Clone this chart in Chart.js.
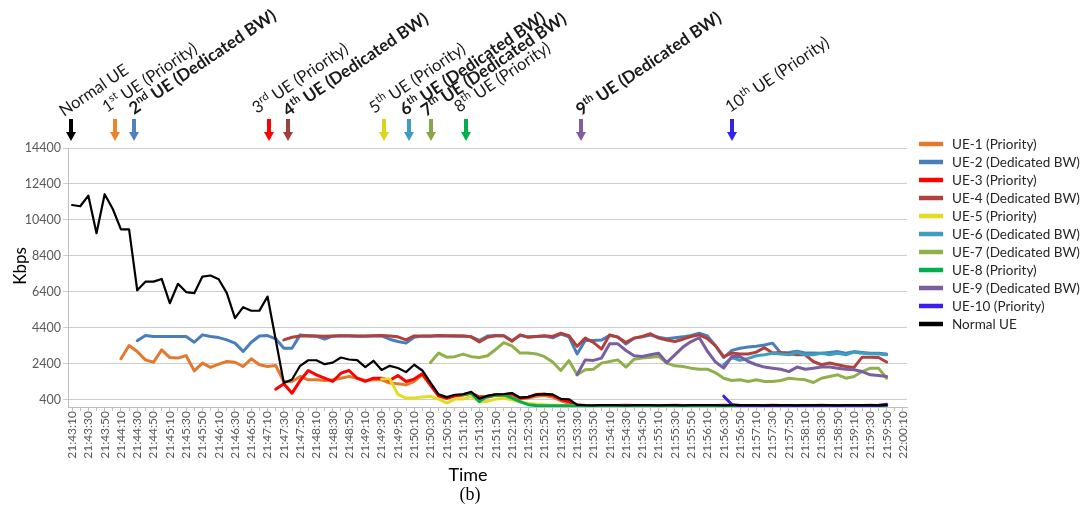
<!DOCTYPE html>
<html>
<head>
<meta charset="utf-8">
<script src="https://cdn.jsdelivr.net/npm/chart.js@4.4.1/dist/chart.umd.min.js"></script>
<style>
  html, body { margin: 0; padding: 0; background: #ffffff; }
  canvas { display: block; }
</style>
</head>
<body>
<canvas id="chart" width="1084" height="513"></canvas>
<script>
// Sample times, one every 10 s
const timeLabels = [
  '21:43:10','21:43:20','21:43:30','21:43:40','21:43:50',
  '21:44:00','21:44:10','21:44:20','21:44:30','21:44:40','21:44:50',
  '21:45:00','21:45:10','21:45:20','21:45:30','21:45:40','21:45:50',
  '21:46:00','21:46:10','21:46:20','21:46:30','21:46:40','21:46:50',
  '21:47:00','21:47:10','21:47:20','21:47:30','21:47:40','21:47:50',
  '21:48:00','21:48:10','21:48:20','21:48:30','21:48:40','21:48:50',
  '21:49:00','21:49:10','21:49:20','21:49:30','21:49:40','21:49:50',
  '21:50:00','21:50:10','21:50:20','21:50:30','21:50:40','21:50:50',
  '21:51:00','21:51:10','21:51:20','21:51:30','21:51:40','21:51:50',
  '21:52:00','21:52:10','21:52:20','21:52:30','21:52:40','21:52:50',
  '21:53:00','21:53:10','21:53:20','21:53:30','21:53:40','21:53:50',
  '21:54:00','21:54:10','21:54:20','21:54:30','21:54:40','21:54:50',
  '21:55:00','21:55:10','21:55:20','21:55:30','21:55:40','21:55:50',
  '21:56:00','21:56:10','21:56:20','21:56:30','21:56:40','21:56:50',
  '21:57:00','21:57:10','21:57:20','21:57:30','21:57:40','21:57:50',
  '21:58:00','21:58:10','21:58:20','21:58:30','21:58:40','21:58:50',
  '21:59:00','21:59:10','21:59:20','21:59:30','21:59:40','21:59:50',
  '22:00:00','22:00:10'
];

// Kbps axis tick values
const yTicks = [400, 2400, 4400, 6400, 8400, 10400, 12400, 14400];

// a UE has no samples before it attaches
function from(startIndex, values) {
  return new Array(startIndex).fill(null).concat(values);
}

// Throughput per UE (Kbps)
const ue1 = from(6, [
  2680, 3420, 3090, 2620, 2490, 3180, 2750, 2720, 2860, 2010,
  2440, 2200, 2380, 2530, 2490, 2250, 2680, 2350, 2250, 2310,
  1420, 1420, 1700, 1510, 1510, 1470, 1510, 1600, 1700, 1600,
  1470, 1510, 1510, 1330, 1290, 1230, 1420, 1790, 1200, 600,
  500, 620, 660, 750, 540, 600, 700, 650, 600, 450,
  500, 600, 640, 550, 350, 200, 100, 80, 75, 85,
  80, 75, 80, 85, 80, 75, 80, 85, 80, 75,
  80, 85, 80, 75, 80, 85, 80, 75, 80, 85,
  80, 75, 80, 85, 80, 75, 80, 85, 80, 75,
  80, 85, 80, 75, 80
]);
const ue2 = from(8, [
  3680, 3970, 3920, 3920, 3920, 3920, 3920, 3600, 4010, 3920,
  3860, 3730, 3550, 3090, 3600, 3950, 3970, 3790, 3270, 3270,
  4010, 3960, 3940, 3780, 3940, 3960, 3950, 3940, 3940, 3950,
  3960, 3770, 3640, 3550, 3880, 3940, 3940, 3960, 3950, 3940,
  3950, 3900, 3700, 3950, 3980, 3960, 3700, 3980, 3900, 3920,
  3940, 3850, 4050, 3900, 2950, 3700, 3700, 3720, 3980, 3900,
  3500, 3830, 3900, 4000, 3880, 3800, 3850, 3900, 3980, 4100,
  3950, 3400, 2750, 3150, 3270, 3330, 3380, 3450, 3550, 3000,
  3030, 3100, 3000, 3000, 2990, 3030, 3080, 2990, 3080, 3030,
  2990, 2990, 2950
]);
const ue3 = from(25, [
  990, 1290, 770, 1470, 2030, 1790, 1600, 1420, 1880, 2030,
  1600, 1420, 1600, 1600, 1480, 1750, 1420, 1550, 1850, 1230,
  620, 490, 620, 680, 770, 550, 560, 650, 680, 740,
  500, 540, 700, 720, 640, 420, 300, 130, 90, 85,
  90, 85, 90, 95, 90, 85, 90, 85, 90, 95,
  90, 85, 90, 85, 90, 95, 90, 85, 90, 85,
  90, 95, 90, 85, 90, 85, 90, 95, 90, 85,
  90, 85, 90, 95, 90, 85
]);
const ue4 = from(26, [
  3730, 3880, 3950, 3960, 3950, 3940, 3950, 3960, 3960, 3950,
  3950, 3960, 3970, 3950, 3900, 3730, 3950, 3950, 3950, 3970,
  3960, 3960, 3950, 3900, 3620, 3880, 3960, 3960, 3650, 4010,
  3880, 3920, 3960, 3920, 4100, 3960, 3370, 3830, 3590, 3220,
  4010, 3880, 3590, 3830, 3920, 4070, 3830, 3730, 3640, 3770,
  3920, 4010, 3800, 3400, 2800, 3000, 2950, 2950, 3050, 3300,
  3000, 3030, 2960, 2900, 2900, 2530, 2350, 2450, 2350, 2250,
  2200, 2770, 2770, 2750, 2500
]);
const ue5 = from(38, [
  1560, 1560, 700, 500, 500, 550, 590, 440, 220, 440,
  440, 590, 310, 310, 440, 480, 400, 280, 200, 150,
  120, 100, 85, 80, 85, 80, 75, 80, 85, 80,
  75, 80, 85, 80, 75, 80, 85, 80, 75, 80,
  85, 80, 75, 80, 85, 80, 75, 80, 85, 80,
  75, 80, 85, 80, 75, 80, 85, 80, 75, 80,
  85, 80, 75
]);
const ue6 = from(80, [
  2350, 2750, 2600, 2700, 2850, 2900, 2990, 2950, 2900, 3030,
  2900, 2900, 2990, 2900, 2990, 2900, 3050, 2990, 2960, 2950,
  2900
]);
const ue7 = from(44, [
  2470, 3000, 2770, 2800, 2940, 2800, 2750, 2850, 3200, 3580,
  3400, 3000, 3000, 2950, 2800, 2500, 2030, 2580, 1790, 2070,
  2100, 2440, 2530, 2620, 2220, 2660, 2720, 2770, 2810, 2440,
  2290, 2250, 2160, 2100, 2100, 1900, 1600, 1470, 1510, 1420,
  1510, 1420, 1420, 1470, 1600, 1550, 1510, 1360, 1600, 1700,
  1790, 1600, 1700, 1970, 2160, 2160, 1600
]);
const ue8 = from(48, [
  700, 780, 300, 600, 650, 680, 500, 300, 130, 80,
  70, 75, 70, 65, 70, 75, 70, 65, 70, 75,
  70, 65, 70, 75, 70, 65, 70, 75, 70, 65,
  70, 75, 70, 65, 70, 75, 70, 65, 70, 75,
  70, 65, 70, 75, 70, 65, 70, 75, 70, 65,
  70, 75, 70
]);
const ue9 = from(62, [
  1790, 2620, 2590, 2720, 3510, 3510, 3140, 2850, 2810, 2900,
  2990, 2470, 2900, 3330, 3640, 3850, 3100, 2500, 2160, 2810,
  2810, 2530, 2350, 2220, 2160, 2100, 1970, 2220, 2100, 2160,
  2220, 2220, 2160, 2100, 2070, 1970, 1790, 1750, 1700
]);
const ue10 = from(80, [
  600, 140, 80, 75, 80, 85, 80, 75, 80, 85,
  80, 75, 80, 85, 80, 75, 80, 85, 80, 100,
  150
]);
const normalUE = [
  11230, 11160, 11750, 9660, 11830, 11010, 9880, 9880, 6490, 6970,
  6970, 7120, 5770, 6850, 6390, 6330, 7250, 7310, 7100, 6330,
  4940, 5550, 5350, 5360, 6140, 3740, 1330, 1530, 2290, 2600,
  2600, 2380, 2470, 2750, 2640, 2610, 2220, 2570, 2060, 2290,
  2170, 1940, 2350, 2030, 1360, 700, 550, 680, 710, 840,
  460, 620, 700, 720, 780, 520, 560, 690, 720, 700,
  450, 430, 120, 100, 95, 110, 100, 105, 95, 100,
  110, 100, 95, 105, 100, 95, 100, 110, 105, 100,
  95, 100, 105, 110, 100, 95, 100, 105, 100, 95,
  110, 100, 105, 100, 95, 100, 105, 110, 100, 95,
  105
];

const seriesNames = [
  'UE-1 (Priority)', 'UE-2 (Dedicated BW)', 'UE-3 (Priority)', 'UE-4 (Dedicated BW)',
  'UE-5 (Priority)', 'UE-6 (Dedicated BW)', 'UE-7 (Dedicated BW)', 'UE-8 (Priority)',
  'UE-9 (Dedicated BW)', 'UE-10 (Priority)', 'Normal UE'
];
const seriesData = [ue1, ue2, ue3, ue4, ue5, ue6, ue7, ue8, ue9, ue10, normalUE];
const seriesColors = [
  '#e3782f', '#4a7ebb', '#ff0000', '#b0413e', '#e4dc22', '#3e9ebf',
  '#8fb04a', '#00b050', '#7a5ea0', '#3a1ff0', '#000000'
];

// Attach events: position on the time axis (sample index), colour, caption
const eventAt = [-0.1, 5.3, 7.6, 24.2, 26.5, 38.3, 41.4, 44.1, 48.4, 62.5, 81.0];
const eventColors = [
  '#000000', '#e6852b', '#4f81bd', '#ff0000', '#a0403c', '#dcd41a',
  '#3b9ec0', '#8aa64a', '#00b050', '#7f5e9e', '#3322ee'
];
const eventBold = [0, 0, 1, 0, 1, 0, 1, 1, 0, 1, 0];
const eventCaptions = [
  [['Normal UE']],
  [['1'], ['st', 1], [' UE (Priority)']],
  [['2'], ['nd', 1], [' UE (Dedicated BW)']],
  [['3'], ['rd', 1], [' UE (Priority)']],
  [['4'], ['th', 1], [' UE (Dedicated BW)']],
  [['5'], ['th', 1], [' UE (Priority)']],
  [['6'], ['th', 1], [' UE (Dedicated BW)']],
  [['7'], ['th', 1], [' UE (Dedicated BW)']],
  [['8'], ['th', 1], [' UE (Priority)']],
  [['9'], ['th', 1], [' UE (Dedicated BW)']],
  [['10'], ['th', 1], [' UE (Priority)']]
];
const captionDx = [-7, -8, 0, -12, 0, -10, -4, -5, -7, 0, -2];
const captionY = [117, 113, 115, 114, 117, 114, 116, 117, 113, 116, 113];

const FONT = 'Lato, "Open Sans", sans-serif';

const decorations = {
  id: 'decorations',
  afterDraw(chart) {
    const ctx = chart.ctx;
    const xs = chart.scales.x;
    ctx.save();

    // attach arrows and their captions
    eventAt.forEach((pos, k) => {
      const x = Math.round(xs.getPixelForValue(pos));
      ctx.fillStyle = eventColors[k];
      ctx.fillRect(x - 2, 119, 4, 14);
      ctx.beginPath();
      ctx.moveTo(x - 5, 132);
      ctx.lineTo(x + 5, 132);
      ctx.lineTo(x, 141);
      ctx.closePath();
      ctx.fill();

      ctx.save();
      ctx.translate(x + captionDx[k], captionY[k]);
      ctx.rotate(-34 * Math.PI / 180);
      ctx.fillStyle = '#1a1a1a';
      ctx.textBaseline = 'alphabetic';
      ctx.textAlign = 'left';
      const bold = eventBold[k];
      const weight = bold ? 'bold ' : '';
      let cx = 0;
      eventCaptions[k].forEach(([txt, sup]) => {
        const size = sup ? 11 : (bold ? 17 : 16.5);
        ctx.font = weight + size + 'px ' + FONT;
        ctx.fillText(txt, cx, sup ? -6.5 : 0);
        cx += ctx.measureText(txt).width;
      });
      ctx.restore();
    });

    // legend
    ctx.font = '13.5px ' + FONT;
    ctx.textBaseline = 'middle';
    ctx.textAlign = 'left';
    chart.data.datasets.forEach((ds, i) => {
      const y = 144 + 18 * i;
      ctx.strokeStyle = ds.borderColor;
      ctx.lineWidth = 4.5;
      ctx.lineCap = 'butt';
      ctx.beginPath();
      ctx.moveTo(919, y);
      ctx.lineTo(943, y);
      ctx.stroke();
      ctx.fillStyle = '#262626';
      ctx.fillText(ds.label, 952, y + 0.5);
    });

    // axis titles and caption
    ctx.fillStyle = '#000000';
    ctx.textAlign = 'center';
    ctx.textBaseline = 'middle';
    ctx.save();
    ctx.translate(21, 266);
    ctx.rotate(-Math.PI / 2);
    ctx.font = '17px ' + FONT;
    ctx.fillText('Kbps', 0, 0);
    ctx.restore();
    ctx.font = '18px ' + FONT;
    ctx.fillText('Time', 468, 475);
    ctx.font = '18px "Liberation Serif", "Times New Roman", serif';
    ctx.fillText('(b)', 470, 495);
    ctx.restore();
  }
};

new Chart(document.getElementById('chart'), {
  type: 'line',
  data: {
    labels: timeLabels,
    datasets: seriesNames.map((name, i) => ({
      label: name,
      data: seriesData[i],
      borderColor: seriesColors[i],
      backgroundColor: seriesColors[i],
      borderWidth: i === 10 ? 2.2 : 3,
      pointRadius: 0,
      pointHoverRadius: 0,
      tension: 0,
      fill: false,
      spanGaps: false,
      borderJoinStyle: 'round',
      borderCapStyle: 'round',
      order: seriesNames.length - 1 - i
    }))
  },
  options: {
    responsive: false,
    animation: false,
    devicePixelRatio: 1,
    events: [],
    layout: { padding: { left: 0, top: 148, right: 177, bottom: 0 } },
    plugins: {
      legend: { display: false },
      tooltip: { enabled: false },
      title: { display: false }
    },
    scales: {
      x: {
        type: 'category',
        offset: true,
        grid: {
          display: true,
          drawOnChartArea: false,
          drawTicks: true,
          tickLength: 4,
          color: '#bfbfbf'
        },
        border: { display: true, color: '#bfbfbf', width: 1 },
        ticks: {
          autoSkip: false,
          minRotation: 90,
          maxRotation: 90,
          padding: 0,
          color: '#595959',
          font: { family: FONT, size: 12 },
          callback: (value, index) => (index % 2 === 0 ? timeLabels[index] : '')
        },
        afterFit: (scale) => { scale.height = 106; }
      },
      y: {
        type: 'linear',
        min: 0,
        max: 14400,
        afterBuildTicks: (scale) => { scale.ticks = yTicks.map(v => ({ value: v })); },
        grid: {
          color: '#cccccc',
          lineWidth: 1,
          drawTicks: true,
          tickLength: 5
        },
        border: { display: true, color: '#bfbfbf', width: 1 },
        ticks: {
          padding: 2,
          color: '#595959',
          font: { family: FONT, size: 12.5 },
          callback: (value) => String(value)
        },
        afterFit: (scale) => { scale.width = 68; }
      }
    }
  },
  plugins: [decorations]
});
</script>
</body>
</html>
